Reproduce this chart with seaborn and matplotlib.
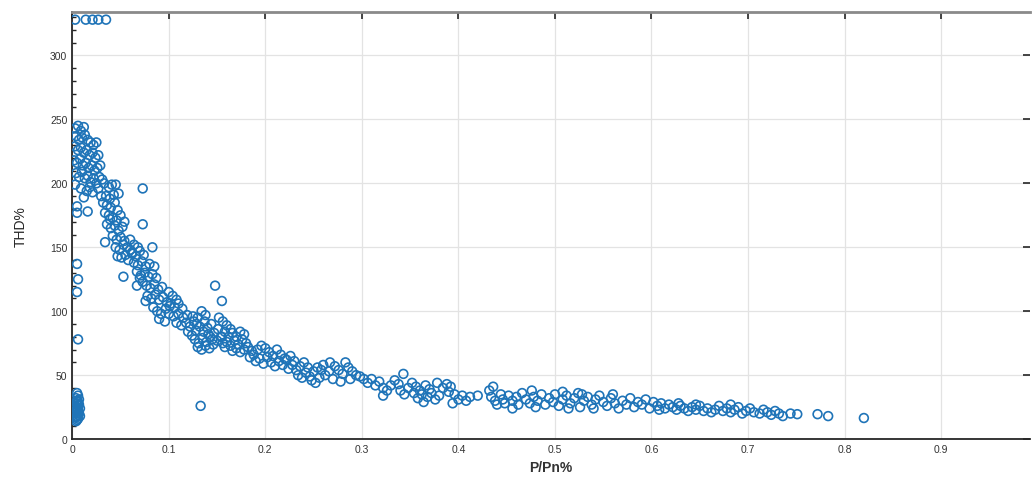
import numpy as np
import pandas as pd
import matplotlib
matplotlib.use("Agg")
import matplotlib.pyplot as plt
import seaborn as sns
from matplotlib.ticker import MultipleLocator

# P/Pn% (x) and THD% (y), grouped by region of the cloud

# saturated readings at the top
pp_sat = [0.003, 0.014, 0.021, 0.027, 0.035]
thd_sat = [328, 328, 328, 328, 328]

# near-idle cluster at x ~ 0
pp_idle = [0.004, 0.005, 0.006, 0.004, 0.005, 0.006, 0.007, 0.004, 0.005, 0.006,
           0.005, 0.004, 0.006, 0.007, 0.005, 0.006, 0.005, 0.004, 0.006, 0.005,
           0.003, 0.008, 0.008, 0.007,
           0.006, 0.005, 0.006, 0.005, 0.005, 0.005, 0.016, 0.012]
thd_idle = [14, 15, 16, 17, 18, 19, 20, 21, 22, 23,
            24, 25, 26, 27, 28, 29, 30, 32, 34, 36,
            26, 24, 18, 31,
            78, 115, 125, 137, 182, 177, 178, 189]

# steep part, x < 0.035
pp_steep = [0.003, 0.006, 0.009, 0.012, 0.004, 0.007, 0.010, 0.013, 0.016, 0.019,
            0.022, 0.025, 0.003, 0.006, 0.009, 0.012, 0.015, 0.018, 0.021, 0.024,
            0.027, 0.002, 0.005, 0.008, 0.011, 0.014, 0.017, 0.020, 0.023, 0.026,
            0.029, 0.004, 0.007, 0.010, 0.013, 0.016, 0.019, 0.022, 0.025, 0.028,
            0.031, 0.003, 0.009, 0.015, 0.018, 0.021, 0.027, 0.030]
thd_steep = [243, 245, 241, 244, 237, 234, 236, 238, 234, 232,
             230, 232, 229, 226, 228, 224, 226, 222, 224, 220,
             222, 218, 216, 219, 214, 216, 212, 214, 210, 212,
             214, 208, 205, 209, 204, 206, 201, 204, 200, 205,
             203, 199, 196, 194, 197, 193, 196, 190]

# knee, 0.03 - 0.065
pp_knee = [0.033, 0.038, 0.041, 0.045, 0.035, 0.039, 0.043, 0.032, 0.036, 0.040,
           0.044, 0.047, 0.034, 0.038, 0.042, 0.046, 0.050, 0.036, 0.040, 0.044,
           0.048, 0.052, 0.042, 0.046, 0.050, 0.054, 0.034, 0.039, 0.045, 0.049,
           0.053, 0.057, 0.060, 0.051, 0.055, 0.047, 0.058, 0.062, 0.053, 0.073,
           0.073, 0.048, 0.054]
thd_knee = [200, 197, 199, 199, 190, 188, 191, 185, 183, 181,
            185, 179, 177, 175, 173, 171, 175, 168, 165, 167,
            163, 166, 159, 156, 158, 155, 154, 172, 150, 148,
            152, 150, 148, 142, 144, 143, 140, 145, 127, 196,
            168, 192, 170]

# 0.06 - 0.10
pp_mid1 = [0.060, 0.064, 0.068, 0.062, 0.066, 0.070, 0.074, 0.083, 0.064, 0.068,
           0.072, 0.076, 0.080, 0.067, 0.071, 0.075, 0.079, 0.083, 0.087, 0.067,
           0.073, 0.077, 0.081, 0.085, 0.089, 0.093, 0.078, 0.082, 0.086, 0.090,
           0.094, 0.098, 0.076, 0.084, 0.088, 0.092, 0.097, 0.101, 0.090, 0.096,
           0.070, 0.085]
thd_mid1 = [156, 152, 150, 146, 143, 147, 144, 150, 138, 136,
            139, 135, 137, 131, 128, 130, 127, 129, 126, 120,
            123, 120, 118, 121, 117, 119, 112, 110, 113, 109,
            111, 107, 108, 103, 100, 98, 102, 104, 94, 92,
            126, 135]

# 0.10 - 0.16
pp_mid2 = [0.100, 0.104, 0.108, 0.102, 0.106, 0.110, 0.114, 0.100, 0.105, 0.110,
           0.115, 0.119, 0.108, 0.113, 0.118, 0.122, 0.126, 0.130, 0.134, 0.138,
           0.120, 0.124, 0.128, 0.132, 0.136, 0.140, 0.144, 0.127, 0.131, 0.135,
           0.139, 0.143, 0.147, 0.151, 0.130, 0.134, 0.138, 0.142, 0.146, 0.150,
           0.154, 0.156, 0.158, 0.125, 0.129, 0.137, 0.141, 0.145, 0.148, 0.155,
           0.133]
thd_mid2 = [115, 112, 109, 106, 103, 106, 102, 98, 96, 98,
            95, 97, 91, 89, 91, 88, 92, 95, 100, 97,
            84, 81, 85, 88, 84, 87, 90, 78, 75, 79,
            76, 80, 83, 86, 72, 70, 73, 71, 74, 77,
            80, 75, 72, 96, 90, 92, 82, 78, 120, 108,
            26]

# 0.15 - 0.20
pp_mid3 = [0.152, 0.156, 0.160, 0.164, 0.158, 0.162, 0.166, 0.170, 0.174, 0.160,
           0.164, 0.168, 0.172, 0.176, 0.180, 0.166, 0.170, 0.174, 0.178, 0.182,
           0.186, 0.184, 0.188, 0.192, 0.196, 0.200, 0.190, 0.194, 0.198, 0.202,
           0.155, 0.178]
thd_mid3 = [95, 92, 89, 86, 84, 80, 83, 80, 84, 76,
            73, 77, 74, 78, 75, 69, 71, 68, 70, 72,
            69, 64, 66, 70, 73, 71, 61, 63, 59, 64,
            80, 82]

# 0.20 - 0.30
pp_mid4 = [0.204, 0.208, 0.212, 0.216, 0.220, 0.206, 0.210, 0.214, 0.218, 0.222,
           0.226, 0.230, 0.224, 0.228, 0.232, 0.236, 0.240, 0.244, 0.234, 0.238,
           0.242, 0.246, 0.250, 0.254, 0.258, 0.248, 0.252, 0.256, 0.262, 0.266,
           0.267, 0.272, 0.276, 0.280, 0.283, 0.286, 0.290, 0.294, 0.270, 0.278,
           0.298, 0.302, 0.260, 0.288]
thd_mid4 = [68, 65, 70, 66, 63, 60, 57, 61, 58, 62,
            65, 61, 55, 58, 54, 57, 60, 56, 50, 48,
            52, 49, 53, 56, 54, 46, 44, 48, 50, 53,
            60, 57, 54, 51, 60, 56, 53, 50, 47, 45,
            49, 47, 58, 47]

# 0.30 - 0.42
pp_high1 = [0.306, 0.310, 0.314, 0.318, 0.322, 0.322, 0.326, 0.330, 0.334, 0.338,
            0.343, 0.340, 0.344, 0.348, 0.352, 0.356, 0.360, 0.358, 0.362, 0.364,
            0.366, 0.370, 0.368, 0.372, 0.376, 0.380, 0.384, 0.388, 0.392, 0.390,
            0.396, 0.400, 0.404, 0.394, 0.408, 0.412, 0.420, 0.354, 0.378]
thd_high1 = [44, 47, 42, 45, 40, 34, 38, 42, 46, 43,
             51, 38, 35, 40, 44, 41, 38, 32, 35, 29,
             42, 39, 33, 36, 31, 34, 40, 43, 41, 37,
             35, 31, 34, 28, 30, 33, 34, 36, 44]

# 0.43 - 0.60
pp_high2 = [0.432, 0.436, 0.434, 0.438, 0.440, 0.444, 0.446, 0.448, 0.452, 0.456,
            0.460, 0.462, 0.466, 0.470, 0.474, 0.478, 0.482, 0.486, 0.490, 0.494,
            0.498, 0.500, 0.504, 0.508, 0.512, 0.516, 0.520, 0.524, 0.526, 0.530,
            0.534, 0.538, 0.542, 0.546, 0.550, 0.554, 0.558, 0.562, 0.566, 0.570,
            0.574, 0.578, 0.582, 0.586, 0.590, 0.594, 0.598, 0.456, 0.480, 0.514,
            0.540, 0.508, 0.528, 0.560, 0.476]
thd_high2 = [38, 41, 33, 30, 27, 35, 31, 28, 34, 30,
             33, 27, 36, 31, 28, 33, 30, 35, 27, 32,
             29, 35, 26, 31, 34, 28, 32, 36, 25, 30,
             33, 27, 31, 34, 29, 26, 32, 28, 24, 30,
             27, 32, 25, 29, 27, 31, 24, 24, 25, 24,
             24, 37, 35, 35, 38]

# 0.60 - 0.82
pp_high3 = [0.602, 0.606, 0.610, 0.614, 0.618, 0.622, 0.626, 0.630, 0.634, 0.638,
            0.642, 0.646, 0.650, 0.654, 0.658, 0.662, 0.666, 0.670, 0.674, 0.678,
            0.682, 0.686, 0.690, 0.694, 0.698, 0.702, 0.706, 0.712, 0.716, 0.720,
            0.724, 0.728, 0.732, 0.736, 0.744, 0.751, 0.608, 0.628, 0.646, 0.682,
            0.772, 0.783, 0.820]
thd_high3 = [29, 26, 28, 24, 27, 25, 23, 26, 24, 22,
             25, 23, 26, 22, 24, 21, 23, 26, 22, 24,
             21, 23, 25, 20, 22, 24, 21, 20, 23, 21,
             19, 22, 20, 18, 20, 19.5, 23, 28, 27, 27,
             19.5, 18, 16.5]

x_ticks = [0, 0.1, 0.2, 0.3, 0.4, 0.5, 0.6, 0.7, 0.8, 0.9]
x_tick_labels = ["0", "0.1", "0.2", "0.3", "0.4", "0.5", "0.6", "0.7", "0.8", "0.9"]
y_ticks = [0, 50, 100, 150, 200, 250, 300]

df = pd.DataFrame({
    "pp": pp_sat + pp_idle + pp_steep + pp_knee + pp_mid1 + pp_mid2 + pp_mid3
          + pp_mid4 + pp_high1 + pp_high2 + pp_high3,
    "thd": thd_sat + thd_idle + thd_steep + thd_knee + thd_mid1 + thd_mid2 + thd_mid3
           + thd_mid4 + thd_high1 + thd_high2 + thd_high3,
})

sns.set_style("white")
plt.rcParams["font.family"] = ["Liberation Sans", "DejaVu Sans"]

fig = plt.figure(figsize=(10.32, 4.81), dpi=100)
ax = fig.add_axes([0.07, 0.085, 0.928, 0.888])

blue = "#1f74b8"
sns.scatterplot(data=df, x="pp", y="thd", ax=ax, marker="o", s=40,
                facecolors="none", edgecolor=blue, linewidth=1.2, zorder=3)

ax.set_xlim(0, 0.992)
ax.set_ylim(0, 334)
ax.set_xticks(x_ticks)
ax.set_xticklabels(x_tick_labels)
ax.set_yticks(y_ticks)
ax.yaxis.set_minor_locator(MultipleLocator(10))

ax.grid(True, which="major", color="#e3e3e3", linewidth=0.9, zorder=0)
ax.set_axisbelow(True)

ax.tick_params(axis="both", which="major", direction="in", length=5, width=1.2,
               colors="#262626", labelsize=7.5, labelcolor="#333333",
               top=True, right=True)
ax.tick_params(axis="y", which="minor", direction="in", length=3, width=1,
               colors="#262626", left=True, right=False)

for side in ["left", "bottom"]:
    ax.spines[side].set_color("#262626")
    ax.spines[side].set_linewidth(1.3)
ax.spines["top"].set_color("#8a8a8a")
ax.spines["top"].set_linewidth(2)
ax.spines["right"].set_visible(False)

ax.set_xlabel("P/Pn%", fontsize=10, fontweight="bold", color="#333333", labelpad=4)
ax.set_ylabel("THD%", fontsize=10, color="#262626", labelpad=16)

fig.savefig("out.png", dpi=100)
